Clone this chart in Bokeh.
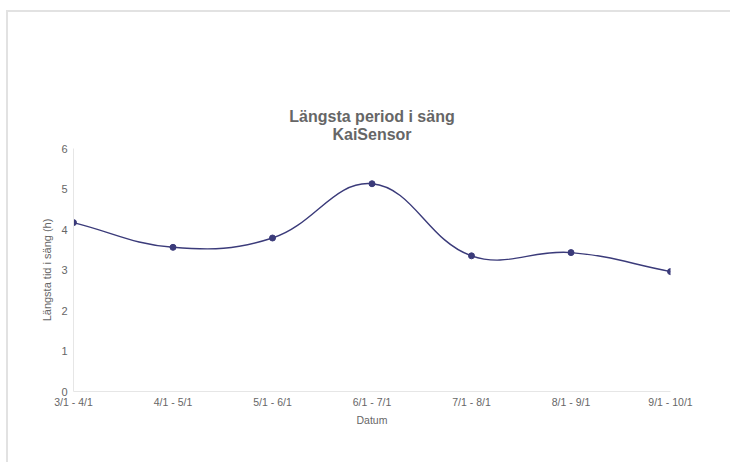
import numpy as np
from bokeh.plotting import figure
from bokeh.models import FixedTicker, Title, Range1d
from bokeh.embed import file_html
from bokeh.resources import INLINE

# ---- data ----
categories = ["3/1 - 4/1", "4/1 - 5/1", "5/1 - 6/1", "6/1 - 7/1",
              "7/1 - 8/1", "8/1 - 9/1", "9/1 - 10/1"]
values = [4.17, 3.56, 3.79, 5.13, 3.35, 3.43, 2.96]
y_ticks = [0, 1, 2, 3, 4, 5, 6]
title_lines = ["Längsta period i säng", "KaiSensor"]

TEXT = "#666666"
LINE = "#3b3b7a"
AXIS = "#e6e6e6"
FONT = "Liberation Sans"

W, H = 724, 452
ML, MR, MT, MB = 65, 62, 136, 73

p = figure(width=W, height=H, output_backend="svg", toolbar_location=None,
           x_range=Range1d(0, len(categories) - 1), y_range=Range1d(0, 6),
           min_border_left=ML, min_border_right=MR, min_border_top=MT,
           min_border_bottom=MB, outline_line_color=None,
           background_fill_color="white", border_fill_color="white")
p.margin = (10, 0, 0, 6)
p.styles = {"border-top": "2px solid #e2e2e2", "border-left": "2px solid #e2e2e2"}

p.add_layout(Title(text="\n".join(title_lines), align="center", text_align="center",
                   text_font=FONT, text_font_size="16px", text_font_style="bold",
                   text_color=TEXT, text_line_height=1.1, standoff=10), "above")

p.xgrid.visible = False
p.ygrid.visible = False

xs = np.arange(len(categories), dtype=float)
ys = np.array(values, dtype=float)

# Chart.js-style bezier spline (tension 0.4), computed in pixel-proportional space
sx = (W - ML - MR) / (len(categories) - 1)
sy = (H - MT - MB) / 6.0
t = 0.4
px, py = xs * sx, ys * sy
n = len(px)
cpx_prev, cpy_prev = np.zeros(n), np.zeros(n)
cpx_next, cpy_next = np.zeros(n), np.zeros(n)
for i in range(n):
    a = max(i - 1, 0)
    c = min(i + 1, n - 1)
    d01 = np.hypot(px[i] - px[a], py[i] - py[a])
    d12 = np.hypot(px[c] - px[i], py[c] - py[i])
    tot = d01 + d12
    s01 = d01 / tot if tot else 0
    s12 = d12 / tot if tot else 0
    fa, fb = t * s01, t * s12
    cpx_prev[i] = px[i] - fa * (px[c] - px[a])
    cpy_prev[i] = py[i] - fa * (py[c] - py[a])
    cpx_next[i] = px[i] + fb * (px[c] - px[a])
    cpy_next[i] = py[i] + fb * (py[c] - py[a])

p.bezier(x0=xs[:-1], y0=ys[:-1], x1=xs[1:], y1=ys[1:],
         cx0=cpx_next[:-1] / sx, cy0=cpy_next[:-1] / sy,
         cx1=cpx_prev[1:] / sx, cy1=cpy_prev[1:] / sy,
         line_color=LINE, line_width=1.4)
p.scatter(xs, ys, size=6, fill_color=LINE, line_color=LINE)

# axes
p.xaxis.ticker = FixedTicker(ticks=list(range(len(categories))))
p.xaxis.major_label_overrides = {i: c for i, c in enumerate(categories)}
p.yaxis.ticker = FixedTicker(ticks=y_ticks)
for ax in (p.xaxis[0], p.yaxis[0]):
    ax.axis_line_color = AXIS
    ax.axis_line_width = 1
    ax.major_tick_line_color = None
    ax.minor_tick_line_color = None
    ax.major_tick_out = 0
    ax.major_tick_in = 0
    ax.major_label_text_color = TEXT
    ax.major_label_text_font = FONT
    ax.axis_label_text_color = TEXT
    ax.axis_label_text_font = FONT
    ax.axis_label_text_font_style = "normal"

p.xaxis.axis_label = "Datum"
p.xaxis.major_label_text_font_size = "10.5px"
p.xaxis.axis_label_text_font_size = "10.5px"
p.xaxis.major_label_standoff = 4
p.xaxis.axis_label_standoff = 3

p.yaxis.axis_label = "Längsta tid i säng (h)"
p.yaxis.major_label_text_font_size = "11px"
p.yaxis.axis_label_text_font_size = "11px"
p.yaxis.major_label_standoff = 6
p.yaxis.axis_label_standoff = 5

open("out.html", "w").write(file_html(p, INLINE))
